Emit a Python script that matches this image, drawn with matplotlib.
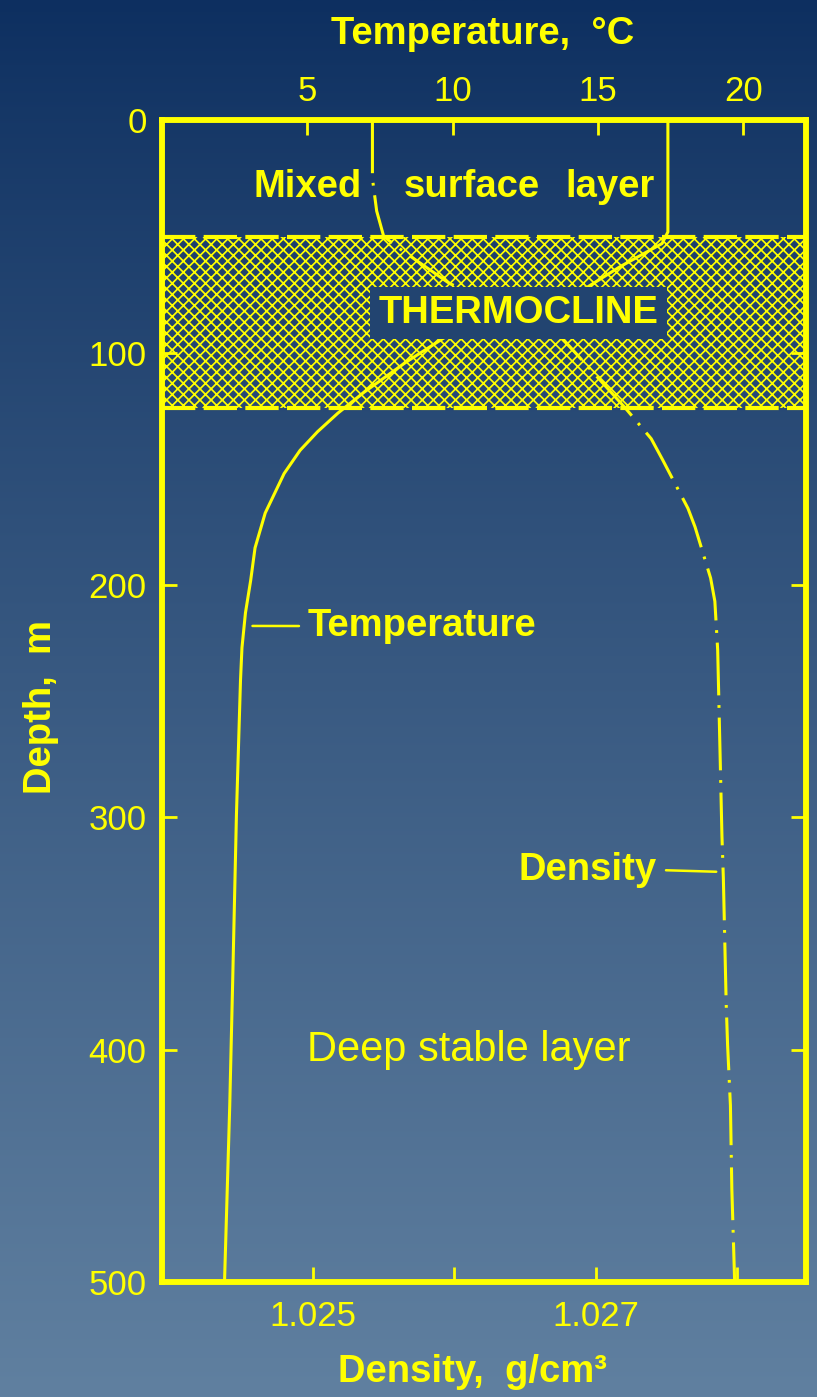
import numpy as np
import matplotlib.pyplot as plt

plt.rcParams['font.family'] = ['Liberation Sans', 'DejaVu Sans']
plt.rcParams['hatch.linewidth'] = 1.25
plt.rcParams['lines.scale_dashes'] = False

YEL = '#ffff00'
TOP_BG = np.array([13, 47, 96]) / 255
BOT_BG = np.array([96, 128, 160]) / 255

# temperature profile: depth (m) and temperature (C)
temp_depth = [0, 48, 53, 63, 72, 92, 104, 117, 126, 134, 142, 152, 169, 184,
              198, 212, 227, 241, 299, 371, 424, 500]
temp_c = [17.4, 17.4, 17.2, 15.75, 14.6, 9.9, 8.4, 6.95, 6.05, 5.35, 4.75,
          4.2, 3.55, 3.2, 3.05, 2.87, 2.75, 2.7, 2.56, 2.43, 2.33, 2.15]

# density profile: depth (m) and density (g/cm3)
dens_depth = [0, 25, 39, 50, 56, 70, 93, 124, 137, 146, 167, 175, 197, 207,
              228, 281, 308, 326, 353, 380, 398, 424, 460, 500]
dens_g = [1.02542, 1.02542, 1.02545, 1.02550, 1.02563, 1.02596, 1.02675,
          1.02721, 1.02739, 1.02747, 1.02765, 1.02770, 1.02781, 1.02784,
          1.02786, 1.02788, 1.02789, 1.02790, 1.02791, 1.02792, 1.02793,
          1.02795, 1.02796, 1.02798]

thermocline = (50, 124)
temp_ticks = [5, 10, 15, 20]
dens_ticks = [1.025, 1.026, 1.027, 1.028]
dens_labels = ['1.025', '', '1.027', '']
depth_ticks = [0, 100, 200, 300, 400, 500]


def bg_color(frac):
    # frac = 0 at the top of the figure, 1 at the bottom
    return TOP_BG + (BOT_BG - TOP_BG) * frac ** 0.9


fig = plt.figure(figsize=(8.17, 13.97), dpi=100)

# vertical gradient background
grad = np.array([bg_color(f) for f in np.linspace(0, 1, 600)])[:, None, :]
bg = fig.add_axes([0, 0, 1, 1], zorder=-5)
bg.imshow(grad, aspect='auto', extent=[0, 1, 0, 1])
bg.axis('off')

ax = fig.add_axes([162 / 817, 115 / 1397, 644 / 817, 1161.6 / 1397])
ax.patch.set_visible(False)
ax.set_xlim(1.0239329, 1.0284841)
ax.set_ylim(500, 0)

# thermocline band
ax.axhspan(*thermocline, facecolor='none', edgecolor=YEL, hatch='xxx',
           linewidth=0, zorder=1)
for d in thermocline:
    ax.axhline(d, color=YEL, lw=3, dashes=(24, 6), zorder=2)

# density curve (dash-dot)
ax.plot(dens_g, dens_depth, color=YEL, lw=2.2, dashes=(38, 7, 2, 7), zorder=3)

ax_t = ax.twiny()
ax_t.set_xlim(0, 22.15)
ax_t.set_ylim(500, 0)
ax_t.plot(temp_c, temp_depth, color=YEL, lw=2.2, zorder=3)

# axes styling
for a in (ax, ax_t):
    for s in a.spines.values():
        s.set_color(YEL)
        s.set_linewidth(4)

ax.set_xticks(dens_ticks)
ax.set_xticklabels(dens_labels)
ax.set_yticks(depth_ticks)
ax.tick_params(axis='x', direction='in', length=11, width=2, colors=YEL,
               labelsize=25, pad=13)
ax.tick_params(axis='y', direction='in', length=11, width=2, colors=YEL,
               labelsize=25, pad=11, right=True)
ax_t.set_xticks(temp_ticks)
ax_t.tick_params(axis='x', direction='in', length=11, width=2, colors=YEL,
                 labelsize=25, pad=9)

bold = dict(fontsize=27.5, fontweight='bold', color=YEL)

ax_t.set_xlabel('Temperature,  °C', va='center', **bold)
ax_t.xaxis.set_label_coords(0.4977, 1.0748)
ax.set_xlabel('Density,  g/cm³', va='center', **bold)
ax.xaxis.set_label_coords(0.4829, -0.0775)
ax.set_ylabel('Depth,  m', va='center', ha='center', **bold)
ax.yaxis.set_label_coords(-0.1879, 0.4946)

# layer labels
lab = dict(va='baseline', transform=ax.transAxes, zorder=6, **bold)
ax_t.text(0.2267, 0.934, 'Mixed', ha='center', **lab)
ax_t.text(0.4814, 0.934, 'surface', ha='center', **lab)
ax_t.text(0.6964, 0.934, 'layer', ha='center', **lab)
ax_t.text(0.5536, 0.8256, 'THERMOCLINE', ha='center',
          bbox=dict(boxstyle='square,pad=0.22', fc=bg_color(309 / 1397),
                    ec='none'), **lab)
ax_t.text(0.4767, 0.1997, 'Deep stable layer', ha='center', va='center',
          fontsize=30, color=YEL, transform=ax.transAxes)

# curve labels with leader lines
t_lab_depth = 217.6
ax_t.annotate('Temperature', xy=(np.interp(t_lab_depth, temp_depth, temp_c),
                                 t_lab_depth),
              xytext=(0.2267, 0.5561), textcoords='axes fraction',
              ha='left', va='baseline',
              arrowprops=dict(arrowstyle='-', color=YEL, lw=1.8,
                              relpos=(0, 0.5), shrinkA=4.5, shrinkB=6),
              **bold)
d_lab_depth = 323.5
ax.annotate('Density', xy=(np.interp(d_lab_depth, dens_depth, dens_g),
                           d_lab_depth),
            xytext=(0.7686, 0.3461), textcoords='axes fraction',
            ha='right', va='baseline',
            arrowprops=dict(arrowstyle='-', color=YEL, lw=1.8,
                            relpos=(1, 0.5), shrinkA=4.5, shrinkB=5),
            **bold)

fig.savefig('out.png', dpi=100)
